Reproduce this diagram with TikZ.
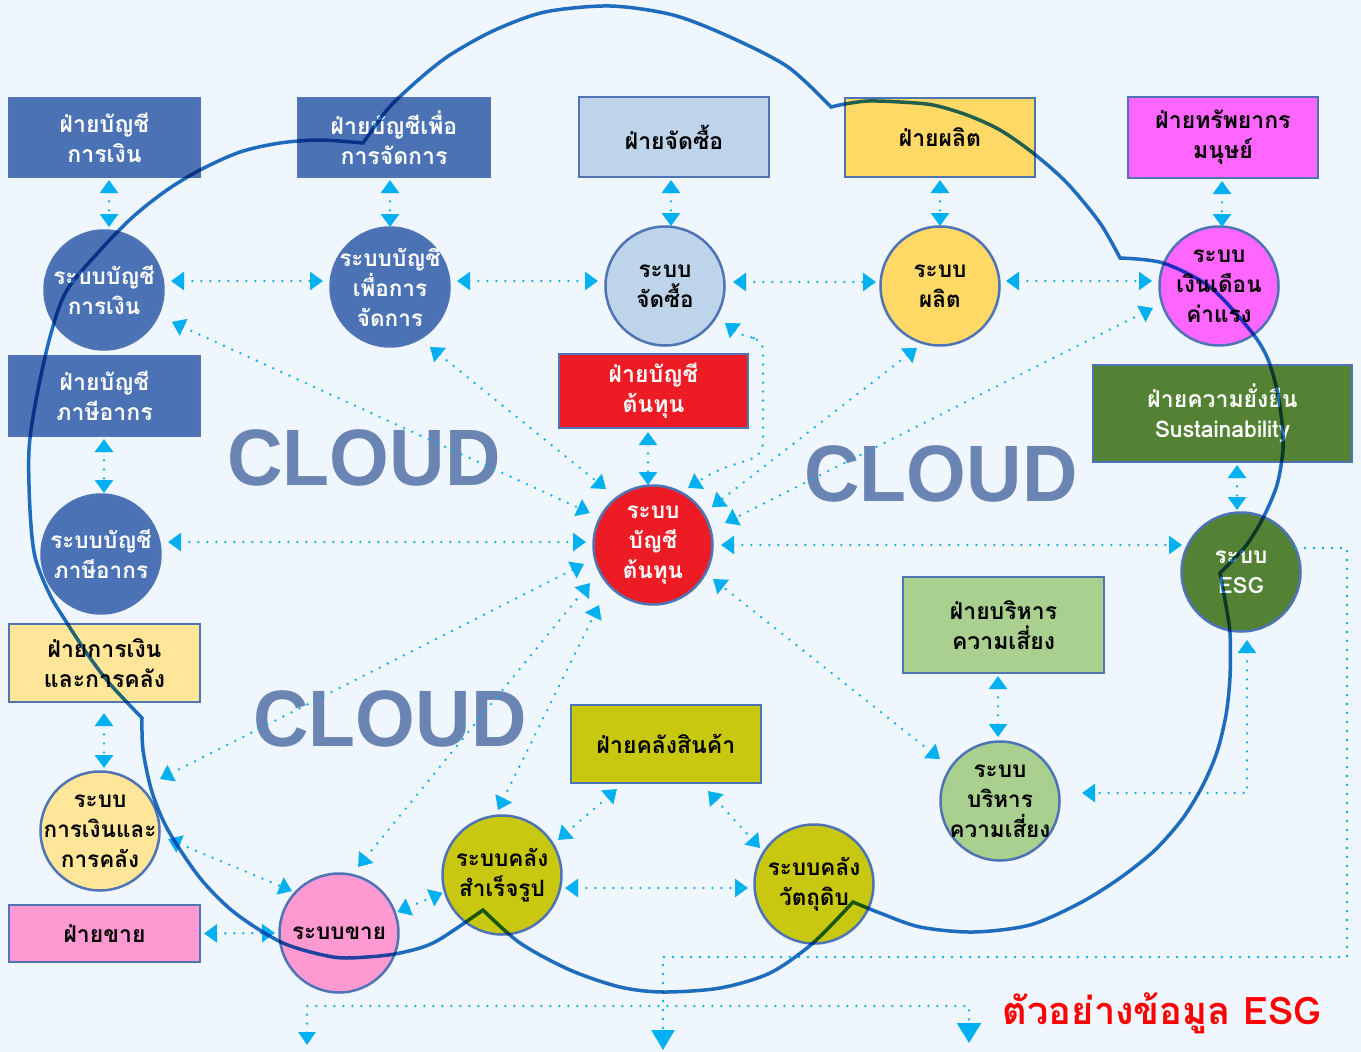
\documentclass[tikz,border=0pt]{standalone}
\usepackage{fontspec}
\usetikzlibrary{arrows.meta}
\newfontfamily\thai[Script=Thai]{Loma}
\newfontfamily\lsans{Liberation Sans}
\definecolor{bgc}{RGB}{240,246,253}
\definecolor{bordc}{RGB}{78,116,182}
\definecolor{blueF}{RGB}{74,114,180}
\definecolor{lblue}{RGB}{189,212,235}
\definecolor{yel}{RGB}{255,217,102}
\definecolor{mag}{RGB}{255,102,255}
\definecolor{redF}{RGB}{237,28,36}
\definecolor{grn}{RGB}{84,130,53}
\definecolor{lyel}{RGB}{255,230,153}
\definecolor{lgrn}{RGB}{169,208,142}
\definecolor{olive}{RGB}{200,200,16}
\definecolor{pinkF}{RGB}{255,153,210}
\definecolor{cyanc}{RGB}{0,176,240}
\definecolor{cloudc}{RGB}{106,132,180}
\definecolor{cloudln}{RGB}{31,112,191}
\tikzset{
  box/.style={draw=bordc, line width=2pt, inner sep=0pt, align=center,
    font=\thai\bfseries\fontsize{23}{30}\selectfont},
  sys/.style={circle, draw=bordc, line width=2.5pt, minimum size=119pt, inner sep=-30pt,
    align=center, font=\thai\bfseries\fontsize{22.5}{30}\selectfont},
  conn/.style={draw=cyanc, line width=2.6pt, dash pattern=on 0pt off 9pt, line cap=round,
    {Triangle[length=13pt,width=18pt]}-{Triangle[length=13pt,width=18pt]}},
  conn1/.style={draw=cyanc, line width=2.6pt, dash pattern=on 0pt off 9pt, line cap=round,
    -{Triangle[length=20pt,width=23pt]}},
  cloudtxt/.style={text=cloudc, font=\lsans\bfseries\fontsize{80}{80}\selectfont,
    inner sep=0pt, xscale=0.96},
  cloudline/.style={draw=cloudln, line width=3.5pt, line join=miter}
}
\begin{document}
\begin{tikzpicture}[x=1pt,y=-1pt]
\fill[bgc] (0,0) rectangle (1361,1052);
\useasboundingbox (0,0) rectangle (1361,1052);

% CLOUD words
\node[cloudtxt] (cl1) at (364,458) {CLOUD};
\node[cloudtxt] (cl2) at (941,474) {CLOUD};
\node[cloudtxt] (cl3) at (390,719) {CLOUD};

% department boxes
\node[box, fill=blueF, text=white, minimum width=191pt, minimum height=79pt] (b1) at (104.5,137.5) {ฝ่ายบัญชี\\การเงิน};
\node[box, fill=blueF, text=white, minimum width=192pt, minimum height=79pt] (b2) at (394,137.5) {ฝ่ายบัญชีเพื่อ\\การจัดการ};
\node[box, fill=lblue, minimum width=190pt, minimum height=80pt] (b3) at (674,137) {ฝ่ายจัดซื้อ};
\node[box, fill=yel, minimum width=190pt, minimum height=79pt] (b4) at (940,137.5) {ฝ่ายผลิต};
\node[box, fill=mag, minimum width=190pt, minimum height=81pt] (b5) at (1223,137.5) {ฝ่ายทรัพยากร\\มนุษย์};
\node[box, fill=blueF, text=white, minimum width=191pt, minimum height=80pt] (b6) at (104.5,396) {ฝ่ายบัญชี\\ภาษีอากร};
\node[box, fill=redF, text=white, minimum width=189pt, minimum height=74pt] (b7) at (653.5,391) {ฝ่ายบัญชี\\ต้นทุน};
\node[box, fill=grn, text=white, minimum width=259pt, minimum height=97pt] (b8) at (1222.5,413.5) {ฝ่ายความยั่งยืน\\Sustainability};
\node[box, fill=lyel, minimum width=191pt, minimum height=78pt] (b9) at (104.5,663) {ฝ่ายการเงิน\\และการคลัง};
\node[box, fill=lgrn, minimum width=201pt, minimum height=96pt] (b10) at (1003.5,625) {ฝ่ายบริหาร\\ความเสี่ยง};
\node[box, fill=olive, minimum width=190pt, minimum height=78pt] (b11) at (666,744) {ฝ่ายคลังสินค้า};
\node[box, fill=pinkF, minimum width=191pt, minimum height=57pt] (b12) at (104.5,933.5) {ฝ่ายขาย};

% system circles
\node[sys, fill=blueF, text=white] (A) at (104,290) {ระบบบัญชี\\การเงิน};
\node[sys, fill=blueF, text=white] (B) at (390,287) {ระบบบัญชี\\เพื่อการ\\จัดการ};
\node[sys, fill=lblue] (C) at (665,286) {ระบบ\\จัดซื้อ};
\node[sys, fill=yel] (D) at (940,286) {ระบบ\\ผลิต};
\node[sys, fill=mag] (E) at (1219,286) {ระบบ\\เงินเดือน\\ค่าแรง};
\node[sys, fill=blueF, text=white] (F) at (101,554) {ระบบบัญชี\\ภาษีอากร};
\node[sys, fill=redF, text=white] (G) at (653,545) {ระบบ\\บัญชี\\ต้นทุน};
\node[sys, fill=grn, text=white] (H) at (1241,572) {ระบบ\\ESG};
\node[sys, fill=lgrn] (I) at (1000,801) {ระบบ\\บริหาร\\ความเสี่ยง};
\node[sys, fill=lyel] (J) at (100,831) {ระบบ\\การเงินและ\\การคลัง};
\node[sys, fill=pinkF] (K) at (339,933) {ระบบขาย};
\node[sys, fill=olive] (L) at (502,875) {ระบบคลัง\\สำเร็จรูป};
\node[sys, fill=olive] (M) at (814,884) {ระบบคลัง\\วัตถุดิบ};

% label
\node[font=\thai\bfseries\fontsize{38}{44}\selectfont, text=red, inner sep=0pt] (lab) at (1162,1013) {ตัวอย่างข้อมูล ESG};

% box <-> system
\draw[conn] ([shift={(4.5pt,-2pt)}]b1.south) -- ([shift={(5pt,63pt)}]A.center);
\draw[conn] ([shift={(-4pt,-2pt)}]b2.south) -- ([shift={(0pt,60pt)}]B.center);
\draw[conn] ([shift={(-3pt,-2pt)}]b3.south) -- ([shift={(6pt,60pt)}]C.center);
\draw[conn] ([shift={(0pt,-2pt)}]b4.south) -- ([shift={(0pt,60pt)}]D.center);
\draw[conn] ([shift={(-1pt,-2pt)}]b5.south) -- ([shift={(3pt,59pt)}]E.center);
\draw[conn] ([shift={(-0.5pt,-2pt)}]b6.south) -- ([shift={(3pt,61pt)}]F.center);
\draw[conn] ([shift={(-5.5pt,-3pt)}]b7.south) -- ([shift={(-5pt,60pt)}]G.center);
\draw[conn] ([shift={(14.5pt,-2pt)}]b8.south) -- ([shift={(-4pt,62pt)}]H.center);
\draw[conn] ([shift={(-0.5pt,-10pt)}]b9.south) -- ([shift={(4pt,63pt)}]J.center);
\draw[conn] ([shift={(-5.5pt,-2pt)}]b10.south) -- ([shift={(-2pt,64pt)}]I.center);
\draw[conn] ([shift={(3pt,0pt)}]b12.east) -- ([shift={(-64pt,0pt)}]K.center);
\draw[conn] ([shift={(-49pt,-5pt)}]b11.south) -- ([shift={(56pt,35pt)}]L.center);
\draw[conn] ([shift={(42pt,-7pt)}]b11.south) -- ([shift={(-54pt,36pt)}]M.center);

% system <-> system
\draw[conn] ([shift={(67pt,9pt)}]A.center) -- ([shift={(-67pt,6pt)}]B.center);
\draw[conn] ([shift={(67pt,6pt)}]B.center) -- ([shift={(-67pt,5pt)}]C.center);
\draw[conn] ([shift={(68pt,4pt)}]C.center) -- ([shift={(-64pt,4pt)}]D.center);
\draw[conn] ([shift={(66pt,5pt)}]D.center) -- ([shift={(-67pt,5pt)}]E.center);
\draw[conn] ([shift={(63pt,-13pt)}]L.center) -- ([shift={(-66pt,-4pt)}]M.center);
\draw[conn] ([shift={(19.7:62pt)}]K.center) -- ([shift={(196.6:62pt)}]L.center);
\draw[conn] ([shift={(-6.7:68.5pt)}]J.center) -- ([shift={(138.2:63pt)}]K.center);

% to cost accounting system
\draw[conn] ([shift={(-25.2:75pt)}]A.center) -- ([shift={(153.1:70.7pt)}]G.center);
\draw[conn] ([shift={(-56.3:72pt)}]B.center) -- ([shift={(130:73pt)}]G.center);
\draw[conn, rounded corners=12pt] ([shift={(-31.7:70.5pt)}]C.center) -- (745,338) -- (763,338) -- (763,455) -- (715,471) -- ([shift={(58.4:67pt)}]G.center);
\draw[conn] ([shift={(249.6:66pt)}]D.center) -- ([shift={(32.8:70pt)}]G.center);
\draw[conn] ([shift={(198.4:69.6pt)}]E.center) -- ([shift={(17:75.3pt)}]G.center);
\draw[conn] ([shift={(67pt,12pt)}]F.center) -- ([shift={(-67pt,3pt)}]G.center);
\draw[conn] ([shift={(68pt,0pt)}]G.center) -- ([shift={(-59pt,27pt)}]H.center);
\draw[conn] ([shift={(40.9:79.4pt)}]J.center) -- ([shift={(195.4:71.6pt)}]G.center);
\draw[conn] ([shift={(73.9:68.7pt)}]K.center) -- ([shift={(211.1:73.6pt)}]G.center);
\draw[conn] ([shift={(-4pt,65pt)}]L.center) -- ([shift={(-54pt,-60pt)}]G.center);
\draw[conn] ([shift={(145:73.2pt)}]I.center) -- ([shift={(-29.5:69pt)}]G.center);

% ESG <-> risk
\draw[conn] ([shift={(6pt,-68pt)}]H.center) |- ([shift={(82pt,8pt)}]I.center);

% ESG output
\coordinate (e1) at (1347,548);
\coordinate (e2) at (1347,957);
\coordinate (e3) at (663,957);
\coordinate (esgout) at (663,1050);
\coordinate (split) at (663,1006);
\coordinate (o1) at (307,1045);
\coordinate (o2) at (969,1043);
\draw[conn1] ([shift={(55pt,24pt)}]H.center) -- (e1) -- (e2) -- (e3) -- (esgout);
\draw[draw=cyanc, line width=2.6pt, dash pattern=on 0pt off 9pt, line cap=round,
  {Triangle[length=13pt,width=17pt]}-{Triangle[length=20pt,width=24pt]}] (o1) |- (split) -| (o2);

% cloud outline
\begin{scope}[blend mode=multiply]
\draw[cloudline]
 plot[smooth] coordinates {(142,718) (143,750) (152,792) (168,830) (200,878) (235,913) (283,943) (333,957) (367,957) (400,953) (435,942) (483,910)}
 -- plot[smooth] coordinates {(483,910) (520,943) (570,970) (620,987) (663,992) (720,988) (770,973) (813,943) (853,902)}
 -- plot[smooth] coordinates {(853,902) (880,913) (920,927) (973,932) (1030,925) (1080,903) (1120,878) (1155,850) (1183,818) (1203,785) (1217,752) (1226,715) (1230,677) (1230,633) (1225,600) (1220,573)}
 -- plot[smooth] coordinates {(1220,573) (1245,547) (1263,518) (1277,485) (1283,450) (1282,423) (1277,390) (1267,357) (1250,330) (1210,287) (1163,263) (1120,258)}
 -- plot[smooth] coordinates {(1120,258) (1100,223) (1067,183) (1033,153) (1000,130) (967,115) (933,105) (900,102) (868,101) (845,104) (831,107)}
 -- plot[smooth] coordinates {(831,107) (788,67) (730,37) (673,15) (610,6) (545,12) (495,30) (453,53) (430,70) (407,90) (387,110) (363,143)}
 -- plot[smooth] coordinates {(363,143) (320,140) (280,143) (240,152) (200,170) (167,190) (135,215) (105,245) (67,290) (50,337) (36,400) (29,450) (30,510) (35,557) (50,595) (67,623) (88,655) (110,684) (142,718)}
 -- cycle;
\end{scope}
\end{tikzpicture}
\end{document}
